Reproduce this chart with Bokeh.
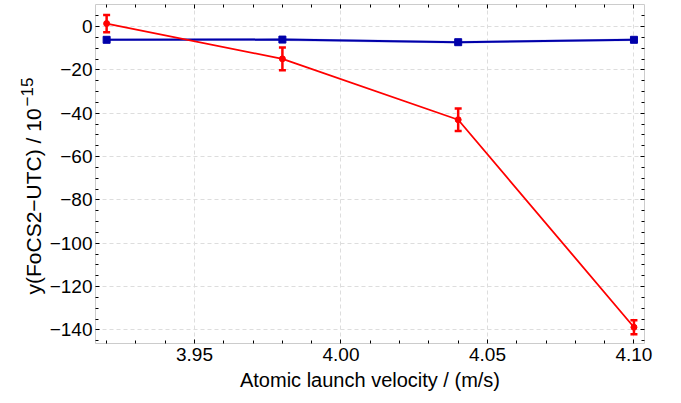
import math
from bokeh.plotting import figure
from bokeh.models import (LinearAxis, Range1d, FixedTicker, Whisker, ColumnDataSource, Label)
from bokeh.embed import file_html
from bokeh.resources import INLINE

# Data
velocity = [3.92, 3.98, 4.04, 4.10]
red_y = [1.4, -14.9, -43.0, -138.8]
red_err = [4.0, 5.3, 5.2, 3.2]
blue_y = [-6.1, -6.0, -7.2, -6.1]
blue_err = [0.6, 0.6, 0.6, 0.6]
x_major = [3.95, 4.00, 4.05, 4.10]
x_minor = [3.92, 3.93, 3.94, 3.96, 3.97, 3.98, 3.99, 4.01, 4.02, 4.03, 4.04,
           4.06, 4.07, 4.08, 4.09]
y_major = [0, -20, -40, -60, -80, -100, -120, -140]
y_minor = [5, -5, -10, -15, -25, -30, -35, -45, -50, -55, -65, -70, -75, -85, -90,
           -95, -105, -110, -115, -125, -130, -135, -145]

FONT = "Liberation Sans"
X0, X1 = 3.9162, 4.1036
Y0, Y1 = -146.3, 10.2

p = figure(width=672, height=400, output_backend="svg", toolbar_location=None,
           x_range=Range1d(X0, X1), y_range=Range1d(Y0, Y1),
           min_border_left=95, min_border_right=28, min_border_top=4,
           min_border_bottom=57)
p.outline_line_color = None
p.background_fill_color = "white"
p.border_fill_color = "white"

xt = FixedTicker(ticks=x_major, minor_ticks=x_minor)
yt = FixedTicker(ticks=y_major, minor_ticks=y_minor)

p.xaxis.ticker = xt
p.yaxis.ticker = yt
p.xaxis.major_label_overrides = {3.95: "3.95", 4.0: "4.00", 4.05: "4.05", 4.1: "4.10"}
p.yaxis.major_label_overrides = {v: str(v).replace("-", "\u2212") for v in y_major}

for ax in [p.xaxis[0], p.yaxis[0]]:
    ax.axis_line_color = "#cccccc"
    ax.major_tick_line_color = "black"
    ax.minor_tick_line_color = "black"
    ax.major_tick_in = 4
    ax.major_tick_out = 0
    ax.minor_tick_in = 3
    ax.minor_tick_out = 0
    ax.major_label_text_font = FONT
    ax.major_label_text_font_size = "19px"
    ax.major_label_text_color = "black"
    ax.axis_label_text_font = FONT
    ax.axis_label_text_font_size = "20px"
    ax.axis_label_text_font_style = "normal"
    ax.axis_label_text_color = "black"

p.xaxis.axis_label = "Atomic launch velocity / (m/s)"
p.xaxis.major_label_standoff = 4
p.yaxis.major_label_standoff = 3
p.xaxis.axis_label_standoff = 5

# y-axis title: main text plus a raised exponent
fy = (Y1 - Y0) / 339.0   # data units per frame pixel (vertical)
fx = (X1 - X0) / 549.0   # data units per frame pixel (horizontal)
lab_main = Label(x=X0 - 62 * fx, y=Y1 - 290 * fy,
                 text="y(FoCS2\u2212UTC) / 10",
                 angle=math.pi / 2, text_align="left", text_baseline="alphabetic",
                 text_font=FONT, text_font_size="21px", text_color="black")
lab_exp = Label(x=X0 - 69 * fx, y=Y1 - 102 * fy, text="\u221215",
                angle=math.pi / 2, text_align="left", text_baseline="alphabetic",
                text_font=FONT, text_font_size="17px", text_color="black")
for lb in [lab_main, lab_exp]:
    p.add_layout(lb, "left")

top = LinearAxis(ticker=xt)
right = LinearAxis(ticker=yt)
top.major_label_overrides = {v: "" for v in x_major}
right.major_label_overrides = {v: "" for v in y_major}
for ax in [top, right]:
    ax.axis_line_color = "#cccccc"
    ax.major_tick_line_color = "black"
    ax.minor_tick_line_color = "black"
    ax.major_tick_in = 4
    ax.major_tick_out = 0
    ax.minor_tick_in = 3
    ax.minor_tick_out = 0
    ax.major_label_standoff = 0
    ax.major_label_text_font_size = "10px"
p.add_layout(top, "above")
p.add_layout(right, "right")

p.xgrid.ticker = xt
p.ygrid.ticker = yt
for g in [p.xgrid[0], p.ygrid[0]]:
    g.grid_line_color = "#dddddd"
    g.grid_line_dash = "4 3"
    g.grid_line_width = 1

# Blue series
blue_lo = [b - e for b, e in zip(blue_y, blue_err)]
blue_hi = [b + e for b, e in zip(blue_y, blue_err)]
p.varea(x=velocity, y1=blue_lo, y2=blue_hi, fill_color="#8888dd", fill_alpha=0.6)
p.line(velocity, blue_y, line_color="#0000aa", line_width=2)
p.scatter(velocity, blue_y, marker="square", size=7, fill_color="#0000aa",
          line_color="#0000aa")

# Red series
src = ColumnDataSource(dict(x=velocity, y=red_y,
                            lo=[r - e for r, e in zip(red_y, red_err)],
                            hi=[r + e for r, e in zip(red_y, red_err)]))
p.line("x", "y", source=src, line_color="#ff0000", line_width=1.8)
w = Whisker(source=src, base="x", lower="lo", upper="hi", line_color="#ff0000",
            line_width=2.5)
w.upper_head.size = 7
w.lower_head.size = 7
w.upper_head.line_color = "#ff0000"
w.lower_head.line_color = "#ff0000"
w.upper_head.line_width = 2.5
w.lower_head.line_width = 2.5
p.add_layout(w)
p.scatter("x", "y", source=src, marker="circle", size=6, fill_color="#ff0000",
          line_color="#ff0000")

open("out.html", "w").write(file_html(p, INLINE))
